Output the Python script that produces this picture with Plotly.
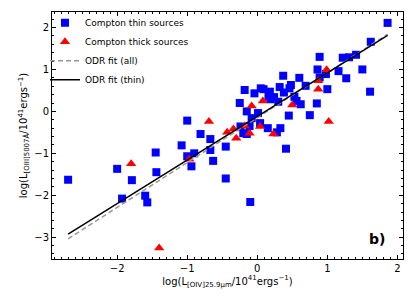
import numpy as np
import plotly.graph_objects as go

# Compton-thin sources (blue squares)
thin_x = [-2.70, -2.00, -1.79, -1.93, -1.45, -1.44, -1.60, -1.57, -1.08, -1.00,
          -0.90, -0.94, -1.00, -0.81, -0.67, -0.67, -0.63, -0.45, -0.45, -0.10,
          -0.25, -0.18, -0.15, -0.04, 0.01, -0.08, 0.04, -0.24, -0.11, -0.20,
          -0.15, 0.05, 0.09, 0.18, 0.16, 0.19, 0.24, 0.30, 0.15, 0.28,
          0.33, 0.41, 0.45, 0.32, 0.37, 0.38, 0.46, 0.48, 0.53, 0.56,
          0.62, 0.60, 0.69, 0.75, 0.85, 0.89, 0.86, 0.89, 0.98, 1.00,
          1.16, 1.22, 1.31, 1.41, 1.27, 1.50, 1.61, 1.62, 1.86]
thin_y = [-1.63, -1.37, -1.64, -2.08, -0.98, -1.45, -2.01, -2.17, -0.81, -1.07,
          -1.00, -1.31, -0.22, -0.54, -0.66, -0.92, -1.18, -0.84, -1.60, -2.16,
          0.20, 0.51, 0.00, 0.43, -0.04, -0.16, -0.28, -0.36, -0.35, -0.52,
          -0.54, 0.55, 0.53, 0.47, 0.35, 0.29, 0.34, 0.23, -0.40, -0.50,
          -0.40, -0.89, -0.10, 0.58, 0.85, 0.45, 0.55, 0.63, 0.35, 0.25,
          0.17, 0.80, 0.61, -0.09, 0.19, 0.81, 1.00, 1.30, 0.89, 0.53,
          0.96, 1.28, 1.29, 1.35, 0.79, 1.00, 0.47, 1.66, 2.11]

# Compton-thick sources (red triangles)
thick_x = [-1.80, -1.40, -0.97, -0.69, -0.43, -0.34, -0.30, -0.18, -0.11, -0.08,
           0.04, 0.08, 0.23, 0.50, 0.87, 0.87, 0.99, 1.02]
thick_y = [-1.25, -3.26, -1.14, -0.24, -0.50, -0.42, -0.64, -0.35, -0.52, 0.13,
           -0.36, 0.25, -0.54, 0.15, 0.73, 0.53, 0.99, -0.24]

# ODR fit parameters (slope, intercept)
fit_all = (1.07, -0.15)
fit_thin = (1.04, -0.12)

x_ticks = [-2, -1, 0, 1, 2]
y_ticks = [-3, -2, -1, 0, 1, 2]

xfit = np.array([min(thin_x + thick_x), max(thin_x + thick_x)])

fig = go.Figure()
fig.add_trace(go.Scatter(x=thin_x, y=thin_y, mode="markers", name="Compton thin sources",
                         marker=dict(symbol="square", size=8, color="#0000ff", line=dict(width=0))))
fig.add_trace(go.Scatter(x=thick_x, y=thick_y, mode="markers", name="Compton thick sources",
                         marker=dict(symbol="triangle-up", size=9, color="#ff0000", line=dict(width=0))))
fig.add_trace(go.Scatter(x=xfit, y=fit_all[0] * xfit + fit_all[1], mode="lines", name="ODR fit (all)",
                         line=dict(color="#999999", width=1.5, dash="5px,3px")))
fig.add_trace(go.Scatter(x=xfit, y=fit_thin[0] * xfit + fit_thin[1], mode="lines", name="ODR fit (thin)",
                         line=dict(color="black", width=1.5)))

axis_common = dict(showline=True, linecolor="black", linewidth=1, mirror="ticks",
                   ticks="inside", ticklen=4, tickwidth=1, tickcolor="black",
                   showgrid=False, zeroline=False, automargin=False,
                   tickfont=dict(family="DejaVu Sans", size=10, color="black"))

fig.update_xaxes(range=[-2.93, 2.08], tickvals=x_ticks,
                 minor=dict(dtick=0.1, ticks="inside", ticklen=2, tickcolor="black", showgrid=False),
                 title=dict(text="log(L<sub>[OIV]25.9μm</sub>/10<sup>41</sup>ergs<sup>−1</sup>)",
                            font=dict(family="DejaVu Sans", size=10, color="black"), standoff=4),
                 **axis_common)
fig.update_yaxes(range=[-3.52, 2.37], tickvals=y_ticks,
                 minor=dict(dtick=0.2, ticks="inside", ticklen=2, tickcolor="black", showgrid=False),
                 title=dict(text="log(L<sub>[OIII]5007Å</sub>/10<sup>41</sup>ergs<sup>−1</sup>)",
                            font=dict(family="DejaVu Sans", size=10, color="black"), standoff=4),
                 **axis_common)

fig.add_annotation(text="<b>b)</b>", x=0.927, y=0.081, xref="paper", yref="paper",
                   xanchor="center", yanchor="middle", showarrow=False,
                   font=dict(family="DejaVu Sans", size=14, color="black"))

# page body adds an 8px offset, so the figure is 8px smaller than the window
fig.update_layout(width=407, height=300, margin=dict(l=44, r=12, t=4, b=49, autoexpand=False),
                  paper_bgcolor="white", plot_bgcolor="white",
                  font=dict(family="DejaVu Sans", size=10, color="black"),
                  legend=dict(x=-0.02, y=1.015, xanchor="left", yanchor="top",
                              bgcolor="rgba(0,0,0,0)", font=dict(family="DejaVu Sans", size=9),
                              itemwidth=30, tracegroupgap=0))

fig.write_html("out.html")
